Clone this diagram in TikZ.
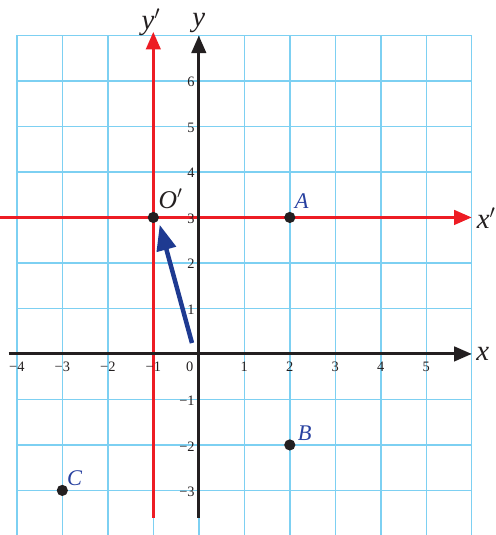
\documentclass[tikz,border=0pt]{standalone}
\usepackage{fontspec}
\setmainfont{Liberation Serif}
\usetikzlibrary{arrows.meta}
\definecolor{gridblue}{RGB}{125,208,242}
\definecolor{axred}{RGB}{237,28,36}
\definecolor{arrblue}{RGB}{30,58,145}
\definecolor{lblblue}{RGB}{40,65,160}
\definecolor{axblack}{RGB}{35,31,32}
\tikzset{
  gridline/.style={draw=gridblue, line width=0.9pt},
  blackaxis/.style={draw=axblack, line width=1.9pt, -{Triangle[length=11pt,width=9pt]}},
  redaxis/.style={draw=axred, line width=1.9pt, -{Triangle[length=11pt,width=9pt]}},
  movearrow/.style={draw=arrblue, line width=2.8pt, -{Triangle[length=16pt,width=12pt]}},
  dot/.style={circle, fill=axblack, inner sep=0pt, minimum size=7pt},
  tick/.style={font=\fontsize{9}{10}\selectfont, text=axblack, inner sep=1pt},
  axlabel/.style={font=\fontsize{18}{20}\selectfont\itshape, text=axblack, inner sep=0pt},
  ptlabel/.style={font=\fontsize{14}{16}\selectfont\itshape, text=lblblue, inner sep=0pt},
}
\begin{document}
\begin{tikzpicture}[x=1cm,y=1cm]
\useasboundingbox (-4.37,-3.98) rectangle (6.53,7.78);
% grid
\foreach \i in {-4,...,6} \draw[gridline] (\i,-4.1) -- (\i,7);
\foreach \j in {-4,...,7} \draw[gridline] (-4,\j) -- (6,\j);
% coordinates
\coordinate (xs) at (-4.18,0);
\coordinate (xe) at (6.0,0);
\coordinate (ys) at (0,-3.6);
\coordinate (ye) at (0,7.0);
\coordinate (rxs) at (-4.4,3);
\coordinate (rxe) at (6.0,3);
\coordinate (rys) at (-1,-3.6);
\coordinate (rye) at (-1,7.08);
% red axes
\draw[redaxis] (rys) -- (rye);
\draw[redaxis] (rxs) -- (rxe);
% black axes
\draw[blackaxis] (xs) -- (xe);
\draw[blackaxis] (ys) -- (ye);
% axis labels
\node[axlabel] (lx) at (6.24,0.0) {x};
\node[axlabel] (ly) at (0,7.27) {y};
\node[axlabel] (lxp) at (6.32,2.98) {x$'$};
\node[axlabel] (lyp) at (-1.05,7.3) {y$'$};
% tick labels x
\foreach \i in {-4,-3,-2,-1} \node[tick, anchor=north] (tx\i) at (\i,-0.13) {−\the\numexpr-\i\relax};
\node[tick, anchor=north] (tx0) at (-0.2,-0.13) {0};
\foreach \i in {1,...,5} \node[tick, anchor=north] (tx\i) at (\i,-0.13) {\i};
% tick labels y
\foreach \j in {1,...,6} \node[tick, anchor=east] (ty\j) at (-0.05,\j-0.02) {\j};
\foreach \j in {-1,-2,-3} \node[tick, anchor=east] (ty\j) at (-0.05,\j-0.04) {−\the\numexpr-\j\relax};
% points
\node[dot] (Op) at (-1,3) {};
\node[dot] (A) at (2,3) {};
\node[dot] (B) at (2,-2) {};
\node[dot] (C) at (-3,-3) {};
\node[axlabel, font=\fontsize{16}{18}\selectfont\itshape] (lOp) at (-0.62,3.42) {O$'$};
\node[ptlabel] (lA) at (2.26,3.35) {A};
\node[ptlabel] (lB) at (2.33,-1.74) {B};
\node[ptlabel] (lC) at (-2.73,-2.73) {C};
% translation arrow
\coordinate (ms) at (-0.15,0.24);
\coordinate (me) at (-0.86,2.84);
\draw[movearrow] (ms) -- (me);
\end{tikzpicture}
\end{document}
